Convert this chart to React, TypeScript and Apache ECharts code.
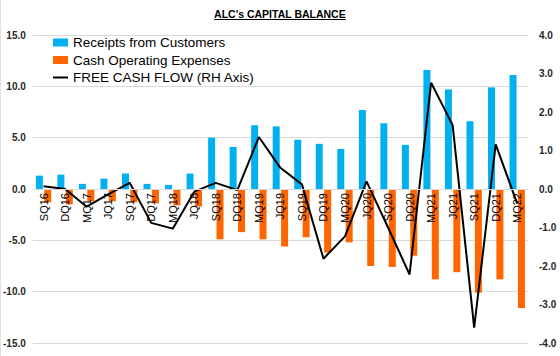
import React, { useEffect, useRef } from "react";
import * as echarts from "echarts";

const categories = ["SQ16","DQ16","MQ17","JQ17","SQ17","DQ17","MQ18","JQ18","SQ18","DQ18","MQ19","JQ19","SQ19","DQ19","MQ20","JQ20","SQ20","DQ20","MQ21","JQ21","SQ21","DQ21","MQ22"];
const receipts = [1.3,1.4,0.5,1.0,1.5,0.5,0.4,1.5,5.0,4.1,6.2,6.1,4.8,4.4,3.9,7.7,6.4,4.3,11.6,9.7,6.6,9.9,11.1];
const expenses = [-1.3,-1.5,-1.2,-1.2,-1.3,-1.4,-1.6,-1.7,-4.9,-4.2,-4.9,-5.6,-4.7,-6.2,-5.2,-7.5,-7.6,-6.5,-8.8,-8.1,-10.1,-8.8,-11.6];
const freeCashFlow = [0.07,0.0,-0.46,-0.14,0.16,-0.88,-1.03,-0.07,0.16,-0.03,1.35,0.55,0.12,-1.81,-1.23,0.2,-1.0,-2.22,2.76,1.66,-3.6,1.16,-0.38];

const TITLE = "ALC's CAPITAL BALANCE";
const FONT = "'Liberation Sans', Arial, sans-serif";

const GRID_TOP = 35;
const GRID_BOTTOM = 13;
const H = 356;
const LEFT_MIN = -15;
const LEFT_MAX = 15;

export default function App() {
  const ref = useRef<HTMLDivElement>(null);
  useEffect(() => {
    if (!ref.current) return;
    const chart = echarts.init(ref.current, null, { renderer: "svg" });
    const titleSize = 10.5;
    let tw = 127;
    try {
      const c = document.createElement("canvas").getContext("2d");
      if (c) {
        c.font = `bold ${titleSize}px 'Liberation Sans'`;
        tw = c.measureText(TITLE).width;
      }
    } catch (e) {}
    const plotH = H - GRID_TOP - GRID_BOTTOM;
    // distance from plot bottom to the zero line (so the category axis sits on zero)
    const zeroOffset = (plotH * (0 - LEFT_MIN)) / (LEFT_MAX - LEFT_MIN);
    const axisLabelStyle = { fontFamily: FONT, fontSize: 10, fontWeight: "bold" as const, color: "#262626" };
    chart.setOption({
      animation: false,
      backgroundColor: "#ffffff",
      textStyle: { fontFamily: FONT },
      graphic: [
        { type: "text", left: "center", top: 8, style: { text: TITLE, font: `bold ${titleSize}px ${FONT}`, fill: "#000" } },
        { type: "line", shape: { x1: 280 - tw / 2, y1: 19.5, x2: 280 + tw / 2, y2: 19.5 }, style: { stroke: "#000", lineWidth: 1 } },
        { type: "line", shape: { x1: 0.5, y1: 0, x2: 0.5, y2: 356 }, style: { stroke: "#e0e0e0", lineWidth: 1 } },
      ],
      legend: {
        orient: "vertical",
        left: 48,
        top: 30,
        itemWidth: 15,
        itemHeight: 8,
        itemGap: 2.5,
        textStyle: { fontFamily: FONT, fontSize: 13.5, color: "#000", lineHeight: 15 },
        data: [
          { name: "Receipts from Customers", icon: "rect" },
          { name: "Cash Operating Expenses", icon: "rect" },
          { name: "FREE CASH FLOW (RH Axis)", icon: "path://M0,0H15V0.01H0Z M0,3H15V5H0Z M0,7.99H15V8H0Z" },
        ],
      },
      grid: { left: 32, right: 32, top: GRID_TOP, bottom: GRID_BOTTOM, containLabel: false },
      xAxis: {
        type: "category",
        data: categories,
        offset: -zeroOffset,
        z: 10,
        axisLine: { onZero: false, lineStyle: { color: "#d9d9d9" } },
        axisTick: { show: false },
        axisLabel: { rotate: 90, interval: 0, fontFamily: FONT, fontSize: 11, color: "#000", margin: 4 },
      },
      yAxis: [
        {
          type: "value",
          min: LEFT_MIN,
          max: LEFT_MAX,
          interval: 5,
          axisLine: { show: false },
          axisTick: { show: false },
          splitLine: { lineStyle: { color: "#d9d9d9", width: 1 } },
          axisLabel: { ...axisLabelStyle, margin: 7, formatter: (v: number) => v.toFixed(1) },
        },
        {
          type: "value",
          min: -4,
          max: 4,
          interval: 1,
          axisLine: { show: false },
          axisTick: { show: false },
          splitLine: { show: false },
          axisLabel: { ...axisLabelStyle, margin: 11, formatter: (v: number) => v.toFixed(1) },
        },
      ],
      series: [
        { name: "Receipts from Customers", type: "bar", data: receipts, barWidth: 7, barGap: "20%", itemStyle: { color: "#00B0F0" } },
        { name: "Cash Operating Expenses", type: "bar", data: expenses, barWidth: 7, barGap: "20%", itemStyle: { color: "#FF6600" } },
        { name: "FREE CASH FLOW (RH Axis)", type: "line", yAxisIndex: 1, data: freeCashFlow, symbol: "none", z: 5, lineStyle: { color: "#000", width: 2 }, itemStyle: { color: "#000" } },
      ],
    });
    return () => chart.dispose();
  }, []);
  return <div ref={ref} style={{ position: "fixed", left: 0, top: 0, width: 560, height: 356 }} />;
}
